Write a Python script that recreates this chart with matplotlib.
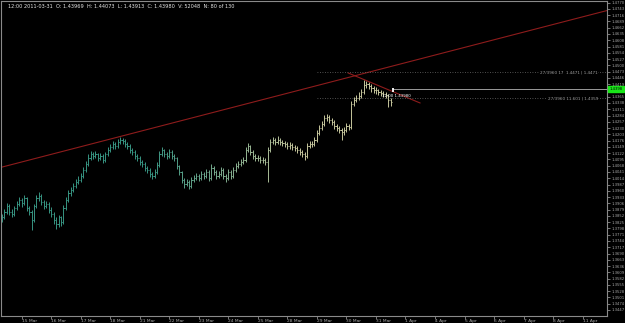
import numpy as np
import matplotlib
matplotlib.use("Agg")
import matplotlib.pyplot as plt
import matplotlib.transforms as mtransforms
from matplotlib.colors import to_rgb

# ---------------- data ----------------
first_open = 1.3836
closes = [
    1.3845, 1.3870, 1.3896, 1.3870, 1.3862, 1.3887, 1.3905, 1.3922, 1.3909, 1.3930,
    1.3887, 1.3870, 1.3836, 1.3896, 1.3930, 1.3939, 1.3913, 1.3896, 1.3905, 1.3879,
    1.3862, 1.3836, 1.3819, 1.3845, 1.3827, 1.3887, 1.3922, 1.3952, 1.3965, 1.3982,
    1.3999, 1.4008, 1.4025, 1.4051, 1.4076, 1.4102, 1.4119, 1.4111, 1.4119, 1.4102,
    1.4111, 1.4093, 1.4119, 1.4136, 1.4149, 1.4162, 1.4153, 1.4171, 1.4179, 1.4175,
    1.4162, 1.4153, 1.4136, 1.4128, 1.4111, 1.4102, 1.4085, 1.4076, 1.4059, 1.4051,
    1.4033, 1.4025, 1.4042, 1.4072, 1.4119, 1.4136, 1.4119, 1.4111, 1.4128, 1.4111,
    1.4102, 1.4068, 1.4042, 1.4008, 1.3990, 1.3999, 1.3982, 1.4008, 1.4016, 1.4025,
    1.4016, 1.4033, 1.4025, 1.4042, 1.4016, 1.4059, 1.4042, 1.4025, 1.4033, 1.4051,
    1.4025, 1.4016, 1.4042, 1.4025, 1.4051, 1.4068, 1.4076, 1.4085, 1.4093, 1.4136,
    1.4153, 1.4128, 1.4111, 1.4102, 1.4102, 1.4093, 1.4093, 1.4085, 1.4136, 1.4171,
    1.4179, 1.4171, 1.4179, 1.4171, 1.4166, 1.4162, 1.4153, 1.4158, 1.4149, 1.4145,
    1.4136, 1.4128, 1.4119, 1.4111, 1.4153, 1.4162, 1.4162, 1.4179, 1.4209, 1.4231,
    1.4248, 1.4274, 1.4278, 1.4265, 1.4256, 1.4239, 1.4231, 1.4222, 1.4214, 1.4222,
    1.4239, 1.4235, 1.4334, 1.4351, 1.4359, 1.4368, 1.4385, 1.4415, 1.4420, 1.4411,
    1.4402, 1.4394, 1.4394, 1.4385, 1.4381, 1.4377, 1.4372, 1.4351, 1.4342,
]
highs = [
    1.3858, 1.3883, 1.3909, 1.3905, 1.3883, 1.3896, 1.3918, 1.3935, 1.3930, 1.3943,
    1.3935, 1.3896, 1.3879, 1.3905, 1.3943, 1.3956, 1.3948, 1.3922, 1.3918, 1.3913,
    1.3892, 1.3870, 1.3845, 1.3857, 1.3853, 1.3900, 1.3935, 1.3965, 1.3978, 1.3995,
    1.4012, 1.4025, 1.4038, 1.4064, 1.4089, 1.4119, 1.4132, 1.4128, 1.4132, 1.4124,
    1.4124, 1.4119, 1.4128, 1.4149, 1.4162, 1.4175, 1.4171, 1.4184, 1.4192, 1.4188,
    1.4184, 1.4171, 1.4162, 1.4145, 1.4136, 1.4119, 1.4111, 1.4093, 1.4085, 1.4068,
    1.4059, 1.4042, 1.4055, 1.4085, 1.4132, 1.4149, 1.4141, 1.4128, 1.4141, 1.4136,
    1.4119, 1.4106, 1.4072, 1.4046, 1.4016, 1.4012, 1.4008, 1.4021, 1.4029, 1.4038,
    1.4033, 1.4046, 1.4042, 1.4055, 1.4051, 1.4076, 1.4068, 1.4051, 1.4046, 1.4064,
    1.4059, 1.4033, 1.4055, 1.4051, 1.4064, 1.4081, 1.4089, 1.4098, 1.4106, 1.4149,
    1.4166, 1.4158, 1.4136, 1.4119, 1.4115, 1.4111, 1.4106, 1.4102, 1.4149, 1.4184,
    1.4192, 1.4188, 1.4196, 1.4188, 1.4179, 1.4175, 1.4171, 1.4171, 1.4166, 1.4158,
    1.4153, 1.4145, 1.4136, 1.4128, 1.4166, 1.4175, 1.4175, 1.4192, 1.4222, 1.4244,
    1.4261, 1.4287, 1.4291, 1.4287, 1.4274, 1.4265, 1.4248, 1.4239, 1.4231, 1.4235,
    1.4252, 1.4248, 1.4346, 1.4364, 1.4372, 1.4385, 1.4398, 1.4437, 1.4433, 1.4428,
    1.4420, 1.4411, 1.4407, 1.4398, 1.4394, 1.4390, 1.4385, 1.4377, 1.4359,
]
lows = [
    1.3827, 1.3838, 1.3862, 1.3857, 1.3849, 1.3853, 1.3879, 1.3896, 1.3892, 1.3900,
    1.3875, 1.3857, 1.3793, 1.3827, 1.3887, 1.3918, 1.3900, 1.3883, 1.3887, 1.3866,
    1.3849, 1.3815, 1.3797, 1.3806, 1.3810, 1.3819, 1.3879, 1.3913, 1.3939, 1.3956,
    1.3973, 1.3990, 1.3999, 1.4016, 1.4042, 1.4068, 1.4093, 1.4098, 1.4102, 1.4089,
    1.4093, 1.4081, 1.4085, 1.4111, 1.4128, 1.4141, 1.4141, 1.4145, 1.4162, 1.4162,
    1.4149, 1.4141, 1.4124, 1.4115, 1.4098, 1.4089, 1.4072, 1.4064, 1.4046, 1.4038,
    1.4021, 1.4012, 1.4016, 1.4033, 1.4064, 1.4111, 1.4106, 1.4098, 1.4102, 1.4098,
    1.4089, 1.4055, 1.4029, 1.3995, 1.3973, 1.3982, 1.3969, 1.3973, 1.3999, 1.4008,
    1.4003, 1.4008, 1.4012, 1.4016, 1.4003, 1.4008, 1.4029, 1.4012, 1.4016, 1.4025,
    1.4012, 1.3999, 1.4008, 1.4012, 1.4016, 1.4042, 1.4059, 1.4068, 1.4076, 1.4085,
    1.4128, 1.4115, 1.4098, 1.4089, 1.4089, 1.4081, 1.4081, 1.4072, 1.3999, 1.4128,
    1.4162, 1.4158, 1.4162, 1.4158, 1.4153, 1.4149, 1.4141, 1.4141, 1.4136, 1.4132,
    1.4124, 1.4115, 1.4106, 1.4093, 1.4102, 1.4145, 1.4149, 1.4153, 1.4171, 1.4201,
    1.4222, 1.4239, 1.4261, 1.4252, 1.4244, 1.4226, 1.4218, 1.4209, 1.4179, 1.4201,
    1.4214, 1.4222, 1.4226, 1.4325, 1.4342, 1.4351, 1.4359, 1.4377, 1.4402, 1.4398,
    1.4385, 1.4381, 1.4377, 1.4372, 1.4368, 1.4364, 1.4359, 1.4321, 1.4325,
]
current_price = 1.4398
marker_low, marker_high = 1.4385, 1.4402
level_upper = 1.4471
level_lower = 1.4359
level_start_bar = 128
trend_up_pts = [(0.0, 1.4062), (200.0, 1.4610)]
trend_down_pts = [(140.7, 1.4467), (169.9, 1.4338)]

day_labels = ["15 Mar", "16 Mar", "17 Mar", "18 Mar", "21 Mar", "22 Mar", "23 Mar",
              "24 Mar", "25 Mar", "28 Mar", "29 Mar", "30 Mar", "31 Mar", "1 Apr",
              "4 Apr", "5 Apr", "6 Apr", "7 Apr", "8 Apr", "11 Apr"]
price_label_base = 1.4338
price_label_step = 0.0027
header = ("12:00 2011-03-31  O: 1.43969  H: 1.44073  L: 1.43913  C: 1.43980  "
          "V: 52048  N: 80 of 130")
level_upper_text = "27/3960 17  1.4471 | 1.4471"
level_lower_text = "27/3960 11.601 | 1.4359"
marker_text = "12:00 1.43980"

# ---------------- drawing ----------------
W, H = 625, 323
fig = plt.figure(figsize=(W / 100, H / 100), dpi=100, facecolor="black")
ax = fig.add_axes([1 / W, 7 / H, 606 / W, 315.5 / H], facecolor="black")
XMAX = 245.9
ax.set_xlim(-0.4, XMAX)
ax.set_ylim(1.3421, 1.4779)

n = len(closes)
x = np.arange(n)
opens = [first_open] + closes[:-1]

c0 = np.array(to_rgb("#379482"))
c1 = np.array(to_rgb("#c6c69c"))
cols = []
for i in range(n):
    t = min(max((i - 60) / 60.0, 0.0), 1.0)
    cols.append(tuple(c0 * (1 - t) + c1 * t))

lw = 0.7
ax.vlines(x, lows, highs, colors=cols, lw=lw)
ax.hlines(opens, x - 0.45, x, colors=cols, lw=lw)
ax.hlines(closes, x, x + 0.45, colors=cols, lw=lw)

# trend lines
ax.axline(trend_up_pts[0], trend_up_pts[1], color="#8e1c1c", lw=0.8)
ax.plot([p[0] for p in trend_down_pts], [p[1] for p in trend_down_pts],
        color="#8e1c1c", lw=0.8)

# horizontal levels
for lv in (level_upper, level_lower):
    ax.plot([level_start_bar, XMAX], [lv, lv], color="#6a6a6a", lw=0.6,
            ls=(0, (1, 2)))
ax.plot([n, XMAX], [current_price, current_price], color="#9a9a9a", lw=0.7)

xr = (598 - 1) / 2.4604 - 0.4
ax.text(xr, level_upper, level_upper_text, fontsize=3.0, color="#a0a0a0",
        ha="right", va="center",
        bbox=dict(facecolor="black", edgecolor="none", pad=0.3))
ax.text(xr, level_lower, level_lower_text, fontsize=3.0, color="#a0a0a0",
        ha="right", va="center",
        bbox=dict(facecolor="black", edgecolor="none", pad=0.3))

# marker of last price
ax.vlines([n], [marker_low], [marker_high], colors="white", lw=1.3)
ax.text(n - 4.5, 1.4370, marker_text, fontsize=2.8, color="white",
        ha="left", va="center")

# axes styling
for s in ax.spines.values():
    s.set_color("#8a8a8a")
    s.set_linewidth(0.8)

ax.yaxis.tick_right()
yt = [price_label_base + price_label_step * k for k in range(-33, 17)]
ax.set_yticks(yt)
ax.set_yticklabels(["" if abs(v - current_price) < price_label_step * 0.6
                    else f"{v:.4f}" for v in yt])
ax.tick_params(axis="y", colors="#a9a9a9", labelsize=2.7, length=2,
               width=0.5, pad=1.2)

bars_per_day = 12
first_day_bar = 8
xt = [first_day_bar + bars_per_day * k for k in range(len(day_labels))]
ax.set_xticks(xt)
ax.set_xticklabels(day_labels, ha="left")
ax.tick_params(axis="x", colors="#a9a9a9", labelsize=3.2, length=2,
               width=0.5, pad=0.3)

# current price box on axis
trans = mtransforms.blended_transform_factory(ax.transAxes, ax.transData)
ax.text(1.004, current_price, f"{current_price:.4f}", transform=trans,
        fontsize=2.7, color="black", ha="left", va="center",
        bbox=dict(facecolor="#19e619", edgecolor="#19e619", pad=0.9),
        clip_on=False, zorder=10)

fig.text(8 / W, 1 - 7 / H, header, fontsize=3.6, color="#e6e6e6",
         ha="left", va="center")

fig.savefig("out.png", dpi=100, facecolor="black")
